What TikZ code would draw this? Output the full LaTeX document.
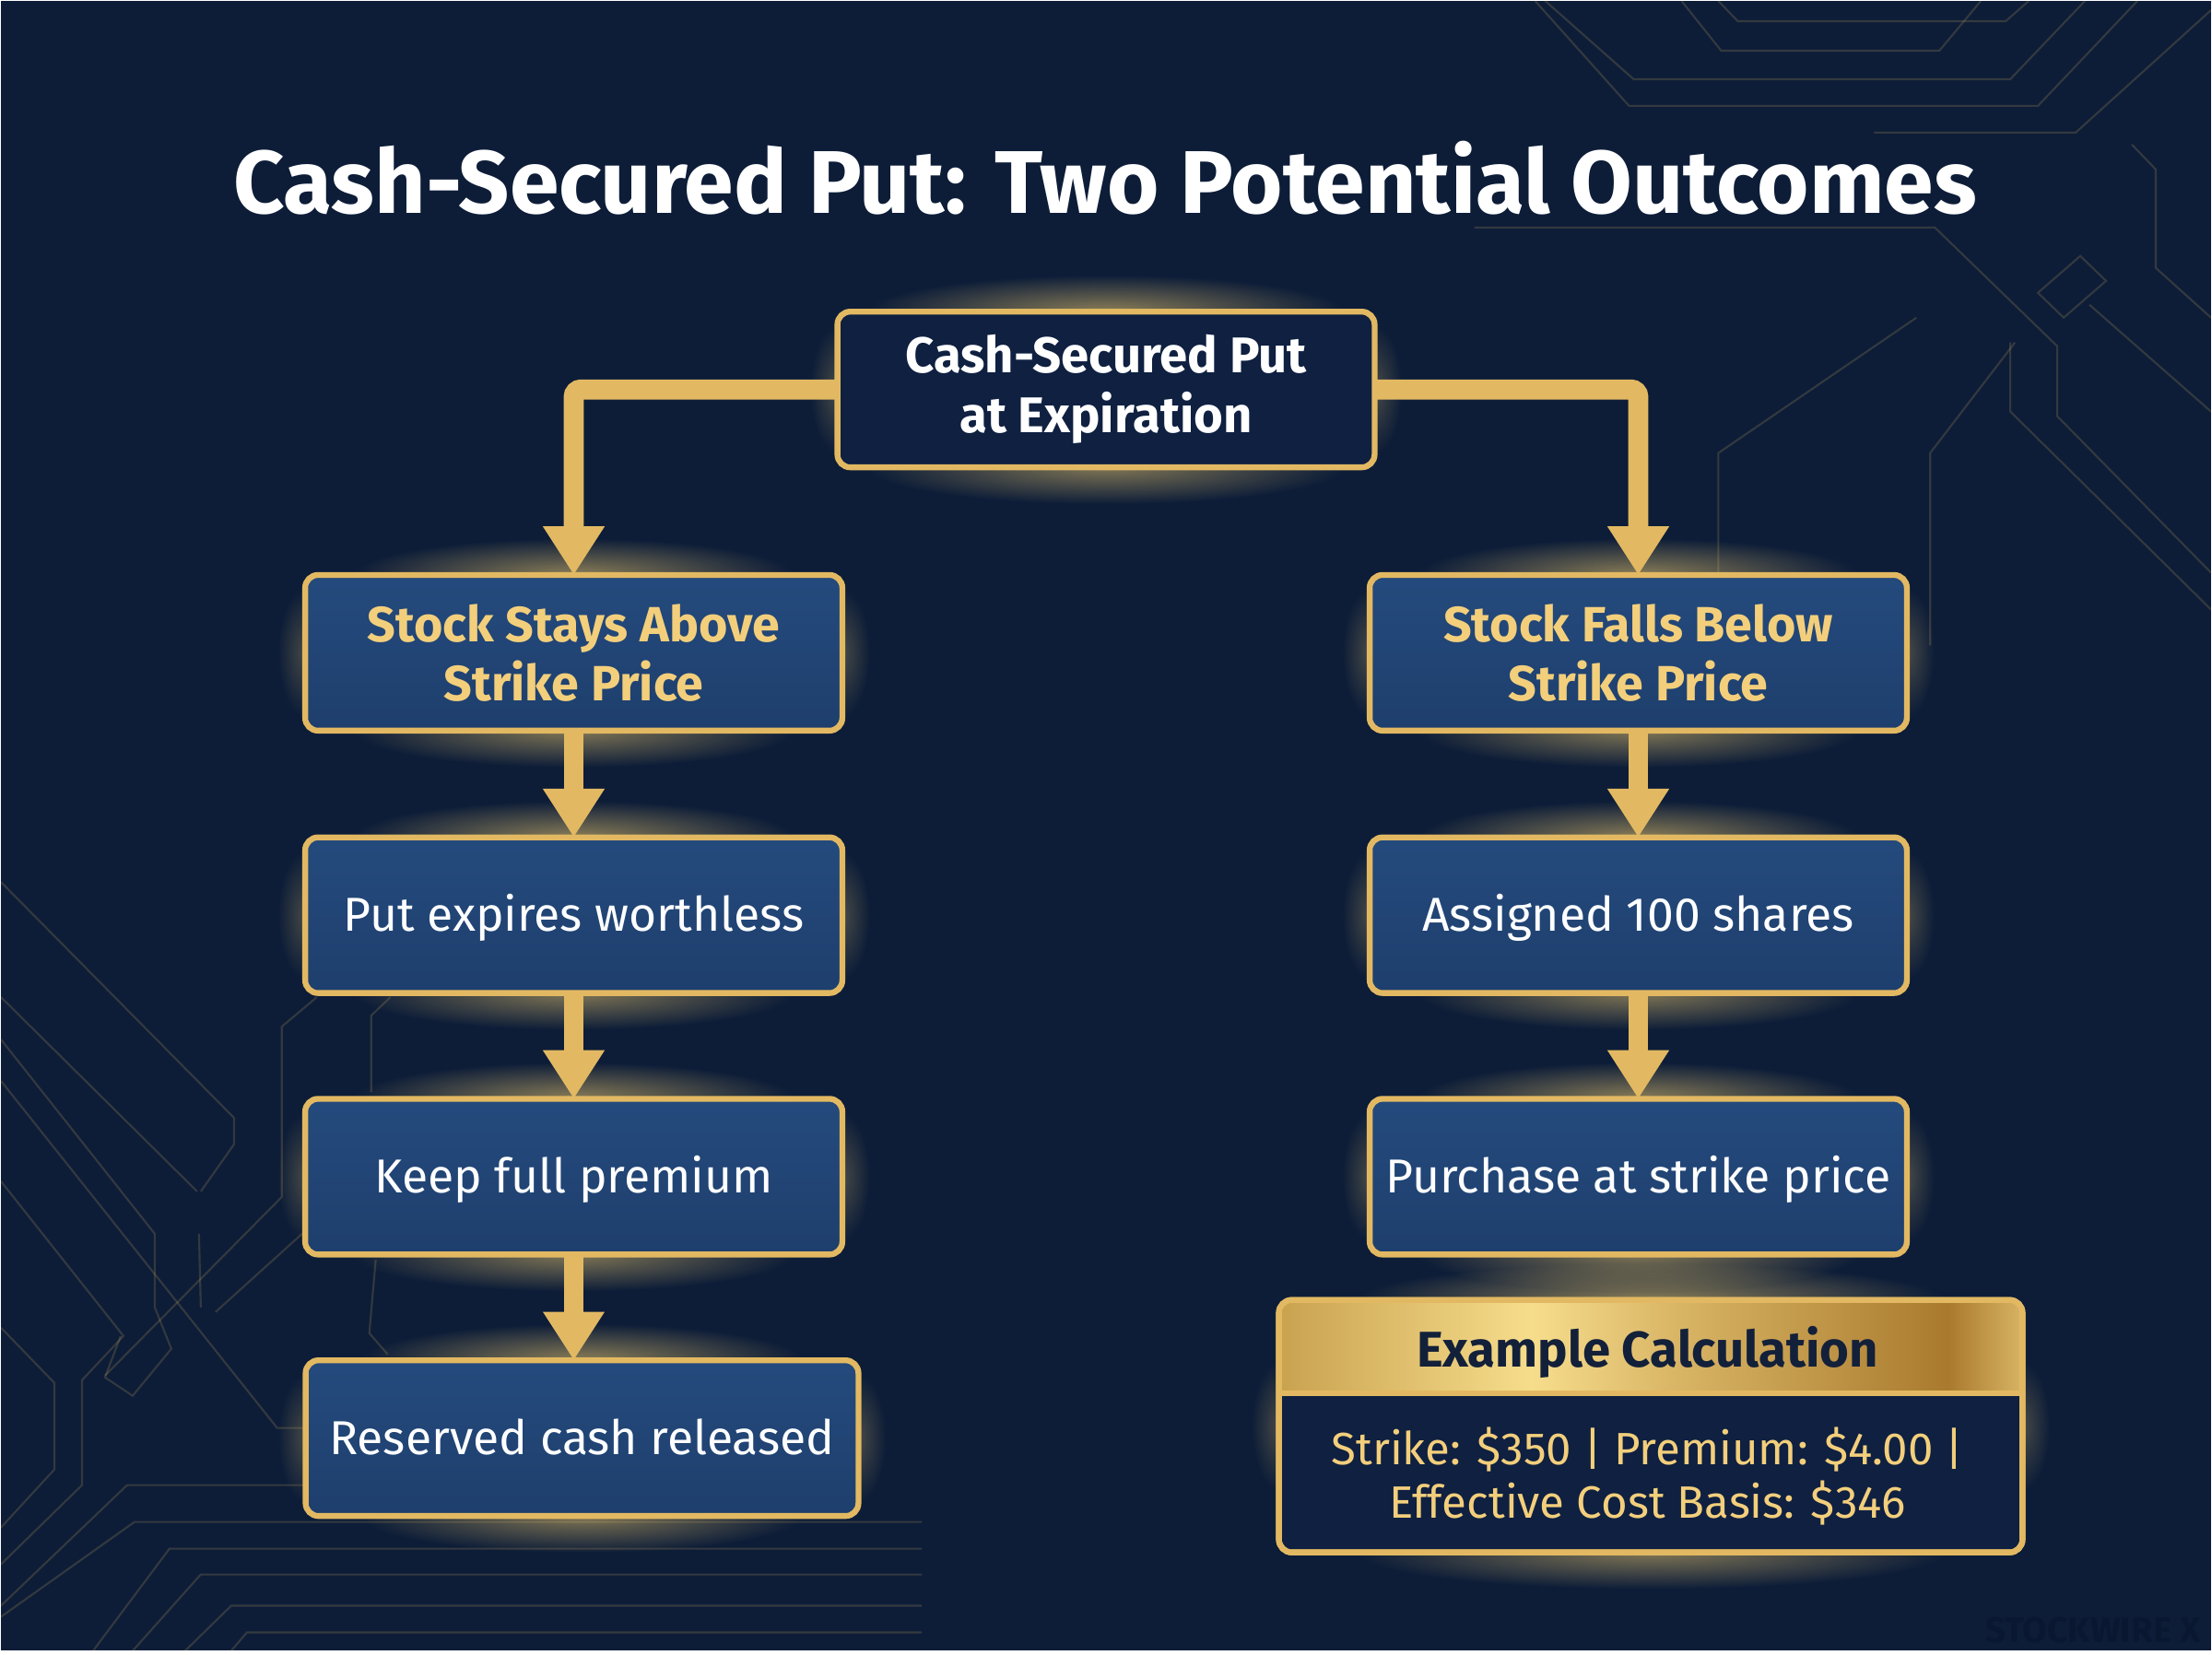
\documentclass[tikz,border=0pt]{standalone}
\usepackage{fontspec}
\setmainfont{Fira Sans}
\usetikzlibrary{arrows.meta,fadings}
\definecolor{bgc}{HTML}{0D1D38}
\definecolor{goldc}{HTML}{E2B962}
\definecolor{glowc}{HTML}{F3CE72}
\definecolor{goldtext}{HTML}{F3CF7C}
\definecolor{boxtop}{HTML}{244A7D}
\definecolor{boxbot}{HTML}{1E3F6D}
\definecolor{darkbox}{HTML}{0F2041}
\definecolor{navytext}{HTML}{13203A}
\definecolor{wmark}{HTML}{0A1730}
\definecolor{gA}{HTML}{C9A24F}
\definecolor{gB}{HTML}{F6DD8C}
\definecolor{gC}{HTML}{D8B465}
\definecolor{gD}{HTML}{A97A2D}
\pgfdeclarelayer{back}
\pgfdeclarelayer{glowl}
\pgfdeclarelayer{connl}
\pgfsetlayers{back,glowl,connl,main}
\tikzfading[name=glowfade, inner color=transparent!0, outer color=transparent!100]
\pgfdeclarehorizontalshading{goldband}{100bp}{color(0bp)=(gA); color(25bp)=(gA); color(42bp)=(gB); color(52bp)=(gC); color(70bp)=(gD); color(75bp)=(gC); color(100bp)=(gC)}
\tikzset{
  boxbase/.style={draw=goldc, line width=1.8pt, rounded corners=0.14cm, minimum width=5.83cm, minimum height=1.69cm, align=center, inner sep=0pt, outer sep=0pt},
  bluebox/.style={boxbase, top color=boxtop, bottom color=boxbot},
  topbox/.style={boxbase, fill=darkbox, text=white, font=\bfseries\fontsize{15.5}{18.5}\selectfont},
  headtxt/.style={text=goldtext, font=\bfseries\fontsize{15.3}{18.2}\selectfont},
  bodytxt/.style={text=white, font=\fontsize{14.7}{18}\selectfont, text height=10.1pt, text depth=0pt},
  conn/.style={draw=goldc, line width=6.2pt, -{Triangle[width=18pt,length=15pt]}, rounded corners=0.08cm},
  circuit/.style={draw=goldc, opacity=0.18, line width=0.6pt},
}
\newcommand\glowbox[2]{%
  \fill[glowc, path fading=glowfade, fill opacity=0.55] (#1.north) ellipse [x radius=#2, y radius=0.4cm];
  \fill[glowc, path fading=glowfade, fill opacity=0.5] (#1.south) ellipse [x radius=#2, y radius=0.4cm];
  \fill[glowc, path fading=glowfade, fill opacity=0.25] (#1.west) ellipse [x radius=0.3cm, y radius=0.7cm];
  \fill[glowc, path fading=glowfade, fill opacity=0.25] (#1.east) ellipse [x radius=0.3cm, y radius=0.7cm];
}
\begin{document}
\begin{tikzpicture}[x=0.01cm, y=-0.01cm]
\begin{pgfonlayer}{back}
  \fill[bgc] (0,0) rectangle (2400,1792);
  % circuit lines top right
  \draw[circuit] (1865,0) -- (1886,22) -- (2177,22) -- (2202,0);
  \draw[circuit] (1825,0) -- (1868,54) -- (2105,54) -- (2150,0);
  \draw[circuit] (1677,0) -- (1773,85) -- (2182,85) -- (2263,0);
  \draw[circuit] (1666,0) -- (1768,114) -- (2212,114) -- (2320,0);
  \draw[circuit] (2034,143) -- (2253,143) -- (2400,10);
  \draw[circuit] (1600,246) -- (2100,246) -- (2233,375) -- (2233,451) -- (2400,621);
  \draw[circuit] (2212,317) -- (2258,277) -- (2286,304) -- (2240,344) -- cycle;
  \draw[circuit] (2080,344) -- (1865,491) -- (1865,700);
  \draw[circuit] (2187,371) -- (2095,491) -- (2095,700);
  \draw[circuit] (2314,156) -- (2340,183) -- (2340,290) -- (2400,344);
  \draw[circuit] (2182,371) -- (2182,446) -- (2400,661);
  \draw[circuit] (2268,330) -- (2400,446);
  % circuit lines bottom left
  \draw[circuit] (0,957) -- (253,1213) -- (253,1242) -- (217,1293);
  \draw[circuit] (0,1082) -- (213,1293);
  \draw[circuit] (0,1128) -- (167,1339) -- (167,1419) -- (185,1464) -- (143,1515) -- (113,1495) -- (130,1450);
  \draw[circuit] (0,1173) -- (300,1550) -- (331,1550);
  \draw[circuit] (0,1282) -- (133,1450) -- (88,1498) -- (88,1612) -- (0,1698);
  \draw[circuit] (0,1441) -- (58,1501) -- (58,1595) -- (0,1658);
  \draw[circuit] (343,1082) -- (305,1114) -- (305,1299) -- (113,1493);
  \draw[circuit] (423,1082) -- (402,1102) -- (402,1185);
  \draw[circuit] (327,1339) -- (233,1424);
  \draw[circuit] (407,1367) -- (400,1447) -- (420,1470);
  \draw[circuit] (215,1339) -- (217,1419);
  \draw[circuit] (331,1612) -- (137,1612) -- (0,1743);
  \draw[circuit] (1000,1652) -- (145,1652) -- (0,1755);
  \draw[circuit] (1000,1681) -- (183,1681) -- (100,1792);
  \draw[circuit] (1000,1709) -- (217,1709) -- (143,1792);
  \draw[circuit] (1000,1743) -- (250,1743) -- (200,1792);
  \draw[circuit] (1000,1772) -- (267,1772) -- (250,1792);
\end{pgfonlayer}

% title
\node[text=white, font=\bfseries\fontsize{27.5}{33}\selectfont] (title) at (1199,192) {Cash-Secured Put: Two Potential Outcomes};

% nodes
\node[topbox] (top) at (1200,422) {Cash-Secured Put\\at Expiration};
\node[bluebox, headtxt] (L1) at (622,708) {Stock Stays Above\\Strike Price};
\node[bluebox, bodytxt] (L2) at (622,993) {Put expires worthless};
\node[bluebox, bodytxt] (L3) at (622,1277) {Keep full premium};
\node[bluebox, bodytxt, minimum width=6cm] (L4) at (631,1561) {Reserved cash released};
\node[bluebox, headtxt] (R1) at (1778,708) {Stock Falls Below\\Strike Price};
\node[bluebox, bodytxt] (R2) at (1778,993) {Assigned 100 shares};
\node[bluebox, bodytxt] (R3) at (1778,1277) {Purchase at strike price};

% example box
\node[boxbase, fill=darkbox, minimum width=8.07cm, minimum height=2.74cm] (ex) at (1791.5,1548) {};
\begin{scope}
  \clip[rounded corners=0.14cm] (ex.north west) rectangle (ex.south east);
  \shade[shading=goldband] (ex.north west) rectangle (ex.east |- 0,1512);
\end{scope}
\draw[goldc, line width=1.8pt, rounded corners=0.14cm] (ex.north west) rectangle (ex.south east);
\draw[goldc, line width=1.8pt] (ex.west |- 0,1512) -- (ex.east |- 0,1512);
\node[text=navytext, font=\bfseries\fontsize{15.5}{18}\selectfont] (exh) at (1788,1468) {Example Calculation};
\node[text=goldtext, align=center, font=\fontsize{14}{16.5}\selectfont] (exb) at (1788,1602) {Strike: \$350 | Premium: \$4.00 |\\Effective Cost Basis: \$346};

% watermark
\node[text=wmark, font=\bfseries\fontsize{11}{11}\selectfont] (wm) at (2272,1770) {STOCKWIRE X};

% glows
\begin{pgfonlayer}{glowl}
  \glowbox{top}{2.6cm}
  \glowbox{L1}{2.4cm}
  \glowbox{L2}{2.4cm}
  \glowbox{L3}{2.4cm}
  \glowbox{L4}{2.4cm}
  \glowbox{R1}{2.4cm}
  \glowbox{R2}{2.4cm}
  \glowbox{R3}{2.4cm}
  \glowbox{ex}{3.2cm}
\end{pgfonlayer}

% connectors
\begin{pgfonlayer}{connl}
  \draw[conn] (top.west) -| (L1.north);
  \draw[conn] (top.east) -| (R1.north);
  \draw[conn] (L1.south) -- (L2.north);
  \draw[conn] (L2.south) -- (L3.north);
  \draw[conn] (L3.south) -- (L4.north -| L3.south);
  \draw[conn] (R1.south) -- (R2.north);
  \draw[conn] (R2.south) -- (R3.north);
\end{pgfonlayer}
\end{tikzpicture}
\end{document}
